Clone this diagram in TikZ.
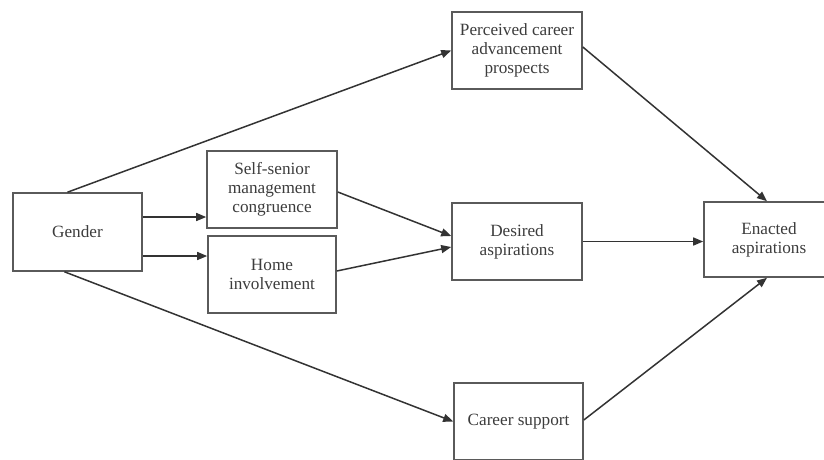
\documentclass[tikz,border=0pt]{standalone}
\usepackage{fontspec}
\setmainfont{Liberation Serif}
\usetikzlibrary{arrows.meta}
\definecolor{boxgray}{HTML}{5A5A5A}
\definecolor{txtgray}{HTML}{3C3C3C}
\begin{document}
\begin{tikzpicture}[x=1pt,y=-1pt,
    box/.style={draw=boxgray,line width=1.6pt,minimum width=130pt,minimum height=77pt,
        inner sep=0,align=center,text=txtgray,font=\fontsize{17.2}{19}\selectfont},
    link/.style={draw=black!80,line width=1.5pt,-{Triangle[length=10pt,width=8pt]}}]
        \useasboundingbox (0,0) rectangle (824,459);
        \clip (0,0) rectangle (824,459);
        \node[box,minimum width=129pt,minimum height=78pt] (gender) at (77.5,232) {Gender};
        \node[box] (selfsen) at (272,189.5) {Self-senior\\management\\congruence};
        \node[box,minimum width=128pt] (home) at (272,274.5) {Home\\involvement};
        \node[box] (percv) at (517,50.5) {Perceived career\\advancement\\prospects};
        \node[box] (desired) at (517,241.5) {Desired\\aspirations};
        \node[box,minimum height=75pt] (enacted) at (769,239.5) {Enacted\\aspirations};
        \node[box,minimum width=129pt] (career) at (518.5,421.5) {Career support};
        \draw[link] ([xshift=-10pt]gender.north) -- (percv.west);
        \draw[link] ([yshift=15pt]gender.east) -- ([yshift=15pt]gender.east -| selfsen.west);
        \draw[link] ([yshift=-24pt]gender.east) -- ([yshift=-24pt]gender.east -| home.west);
        \draw[link] ([xshift=-13pt]gender.south) -- (career.west);
        \draw[link] ([yshift=-2.5pt]selfsen.east) -- ([yshift=5.5pt]desired.west);
        \draw[link] ([yshift=3.5pt]home.east) -- ([yshift=-5.5pt]desired.west);
        \draw[link] (desired.east) -- (desired.east -| enacted.west);
        \draw[link] ([yshift=3.5pt]percv.east) -- ([xshift=-2pt]enacted.north);
        \draw[link] ([yshift=1.5pt]career.east) -- ([xshift=-2pt]enacted.south);
    \end{tikzpicture}
\end{document}
